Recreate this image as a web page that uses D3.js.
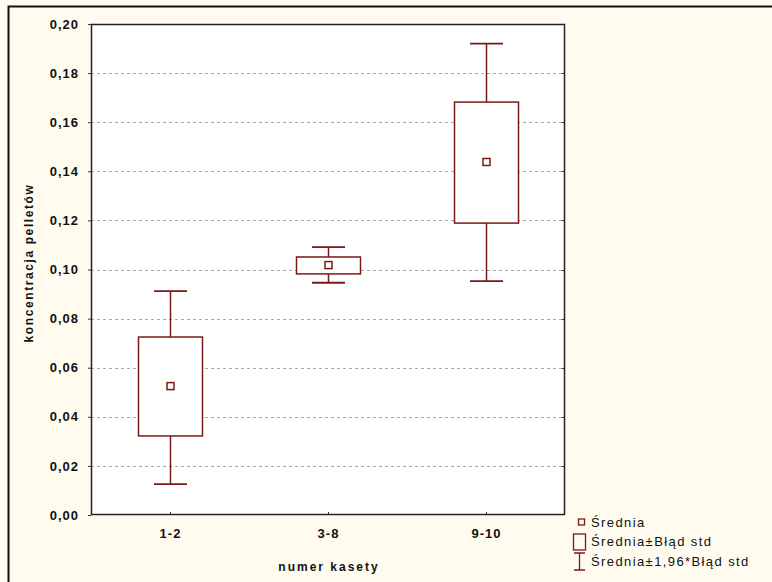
<!DOCTYPE html>
<html>
<head>
<meta charset="utf-8">
<script src="https://cdn.jsdelivr.net/npm/d3@7"></script>
<style>
  html, body { margin: 0; padding: 0; background: #fffbef; }
  svg { display: block; }
  text { font-family: Arial, "Liberation Sans", sans-serif; }
</style>
</head>
<body>
<svg id="chart" width="772" height="582"></svg>
<script>
// Group labels (numer kasety)
const categories = ["1-2", "3-8", "9-10"];
// Mean concentration per group
const means = [0.0525, 0.1018, 0.1438];
// Mean ± standard error
const seLow = [0.0322, 0.0982, 0.1189];
const seHigh = [0.0725, 0.1051, 0.1682];
// Mean ± 1.96 * standard error
const ciLow = [0.0126, 0.0946, 0.0953];
const ciHigh = [0.0912, 0.1091, 0.1920];
// Y tick labels
const yTicks = [0, 0.02, 0.04, 0.06, 0.08, 0.10, 0.12, 0.14, 0.16, 0.18, 0.20];

const legendLabels = ["Średnia", "Średnia±Błąd std", "Średnia±1,96*Błąd std"];

const svg = d3.select("#chart");
const W = 772, H = 582;
const plot = { left: 91, top: 24, right: 565, bottom: 515 };
const markColor = "#7a1a14";
const fmt = d => d3.format(".2f")(d).replace(".", ",");

// outer frame (left and top edges)
svg.append("rect").attr("x", 0).attr("y", 0).attr("width", W).attr("height", H).attr("fill", "#fffbef");
svg.append("path").attr("d", `M8.5,${H} V6.5 H${W}`).attr("fill", "none").attr("stroke", "#111").attr("stroke-width", 2);

const x = d3.scalePoint().domain(categories).range([plot.left, plot.right]).padding(0.5);
const y = d3.scaleLinear().domain([0, 0.2]).range([plot.bottom, plot.top]);

// plot background
svg.append("rect")
  .attr("x", plot.left).attr("y", plot.top)
  .attr("width", plot.right - plot.left).attr("height", plot.bottom - plot.top)
  .attr("fill", "#ffffff");

// horizontal dashed grid
const inner = yTicks.filter(d => d > 0 && d < 0.2);
svg.append("g").selectAll("line").data(inner).join("line")
  .attr("x1", plot.left).attr("x2", plot.right)
  .attr("y1", d => Math.round(y(d)) + 0.5).attr("y2", d => Math.round(y(d)) + 0.5)
  .attr("stroke", "#a8a8a8").attr("stroke-width", 1).attr("stroke-dasharray", "3,3");

// Y axis
const yAxis = svg.append("g").attr("transform", `translate(${plot.left},0)`)
  .call(d3.axisLeft(y).tickValues(yTicks).tickFormat(fmt).tickSize(3).tickPadding(9));
yAxis.select(".domain").remove();
yAxis.selectAll("line").attr("stroke", "#333");
yAxis.selectAll("text").attr("font-size", 13).attr("fill", "#111").attr("font-weight", "bold")
  .attr("letter-spacing", 1);

// small right-side ticks
svg.append("g").selectAll("line").data(inner).join("line")
  .attr("x1", plot.right - 3).attr("x2", plot.right)
  .attr("y1", d => Math.round(y(d)) + 0.5).attr("y2", d => Math.round(y(d)) + 0.5)
  .attr("stroke", "#333");

// X axis
const xAxis = svg.append("g").attr("transform", `translate(0,${plot.bottom})`)
  .call(d3.axisBottom(x).tickSize(-3).tickPadding(14));
xAxis.select(".domain").remove();
xAxis.selectAll("line").attr("stroke", "#333");
xAxis.selectAll("text").attr("font-size", 13).attr("fill", "#111").attr("font-weight", "bold")
  .attr("letter-spacing", 1);

// plot frame
svg.append("rect")
  .attr("x", plot.left + 0.5).attr("y", plot.top + 0.5)
  .attr("width", plot.right - plot.left - 1).attr("height", plot.bottom - plot.top - 1)
  .attr("fill", "none").attr("stroke", "#222").attr("stroke-width", 1.5);

// axis titles
svg.append("text")
  .attr("x", (plot.left + plot.right) / 2 + 1).attr("y", 571)
  .attr("text-anchor", "middle").attr("font-size", 12).attr("fill", "#111")
  .attr("font-weight", "bold").attr("letter-spacing", 2)
  .text("numer kasety");
svg.append("text")
  .attr("transform", `translate(33,263) rotate(-90)`)
  .attr("text-anchor", "middle").attr("font-size", 12).attr("fill", "#111")
  .attr("font-weight", "bold").attr("letter-spacing", 1.6)
  .text("koncentracja pelletów");

// box-and-whisker marks
const boxW = 64, capW = 33, meanS = 7;
const groups = svg.append("g").selectAll("g").data(categories).join("g");
groups.each(function (c, i) {
  const g = d3.select(this);
  const cx = Math.round(x(c)) + 0.5;
  // whiskers
  g.append("line").attr("x1", cx).attr("x2", cx)
    .attr("y1", y(ciHigh[i])).attr("y2", y(seHigh[i]))
    .attr("stroke", markColor).attr("stroke-width", 1.5);
  g.append("line").attr("x1", cx).attr("x2", cx)
    .attr("y1", y(seLow[i])).attr("y2", y(ciLow[i]))
    .attr("stroke", markColor).attr("stroke-width", 1.5);
  [ciHigh[i], ciLow[i]].forEach(v => {
    g.append("line").attr("x1", cx - capW / 2).attr("x2", cx + capW / 2)
      .attr("y1", y(v)).attr("y2", y(v))
      .attr("stroke", markColor).attr("stroke-width", 1.8);
  });
  // box
  g.append("rect")
    .attr("x", cx - boxW / 2).attr("y", y(seHigh[i]))
    .attr("width", boxW).attr("height", y(seLow[i]) - y(seHigh[i]))
    .attr("fill", "#ffffff").attr("stroke", markColor).attr("stroke-width", 1.5);
  // mean marker
  g.append("rect")
    .attr("x", cx - meanS / 2).attr("y", y(means[i]) - meanS / 2)
    .attr("width", meanS).attr("height", meanS)
    .attr("fill", "none").attr("stroke", markColor).attr("stroke-width", 1.5);
});

// legend
const lg = svg.append("g").attr("transform", "translate(572,0)");
const rows = [522, 541, 561];
// mean symbol
lg.append("rect").attr("x", 6.5).attr("y", rows[0] - 3).attr("width", 6).attr("height", 6)
  .attr("fill", "none").attr("stroke", markColor).attr("stroke-width", 1.3);
// box symbol
lg.append("rect").attr("x", 1.5).attr("y", rows[1] - 7).attr("width", 12).attr("height", 16)
  .attr("fill", "none").attr("stroke", markColor).attr("stroke-width", 1.3);
// whisker symbol
lg.append("path")
  .attr("d", `M2,${rows[2] - 8} H13 M7.5,${rows[2] - 8} V${rows[2] + 9} M2,${rows[2] + 9} H13`)
  .attr("fill", "none").attr("stroke", markColor).attr("stroke-width", 1.3);
lg.selectAll("text.lbl").data(legendLabels).join("text")
  .attr("class", "lbl")
  .attr("x", 19).attr("y", (d, i) => rows[i] + 5)
  .attr("font-size", 13).attr("fill", "#111")
  .attr("letter-spacing", 1.4)
  .text(d => d);
</script>
</body>
</html>
